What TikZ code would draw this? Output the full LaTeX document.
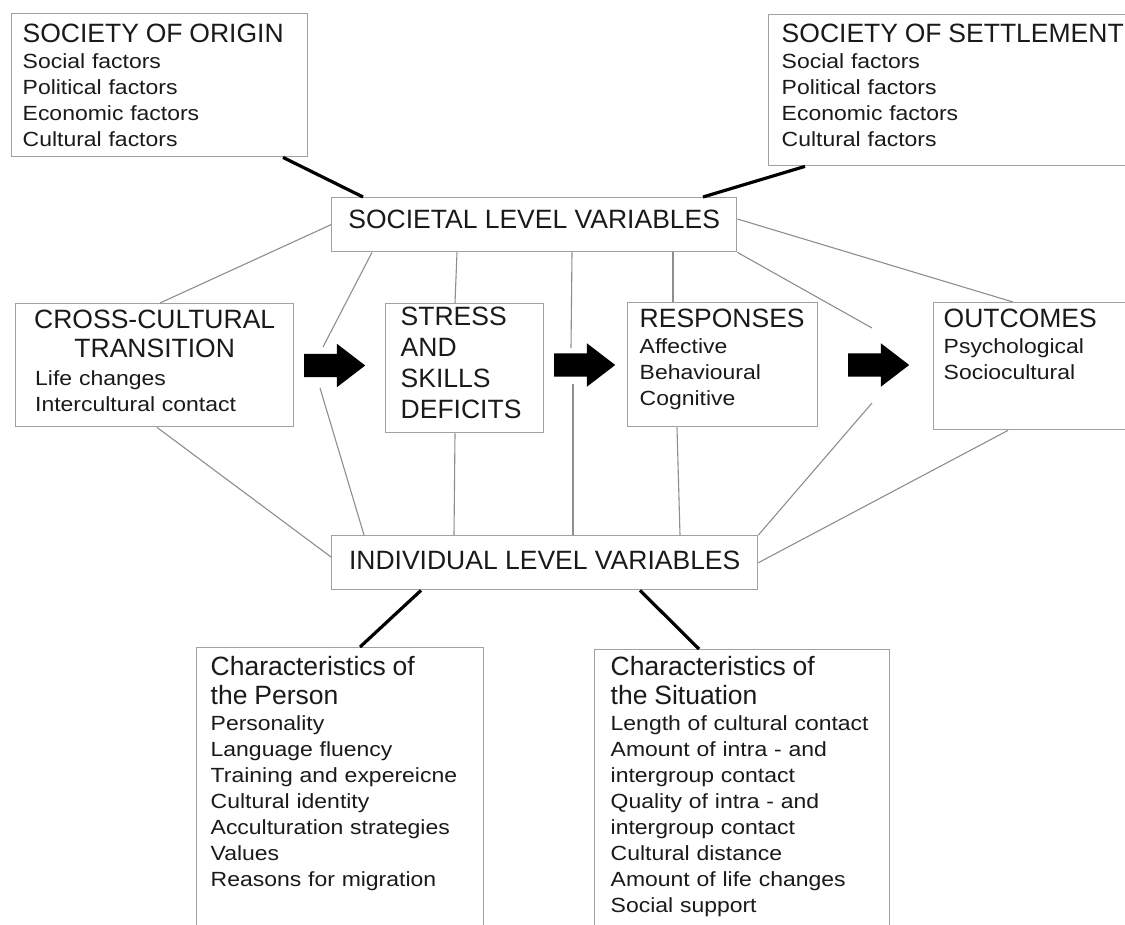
\documentclass[tikz,border=0pt]{standalone}
\usepackage{fontspec}
\setmainfont{Liberation Sans}
\newfontfamily\itemfam[FakeStretch=1.12]{Liberation Sans}
\usetikzlibrary{calc,shapes.arrows}

\definecolor{boxgray}{HTML}{A0A0A0}
\definecolor{linegray}{HTML}{8E8E8E}
\definecolor{txt}{HTML}{1A1A1A}
\newcommand\headfont{\rmfamily\fontsize{26.5}{26}\selectfont}
\newcommand\itemfont{\itemfam\fontsize{20.5}{26}\selectfont}

\begin{document}
\begin{tikzpicture}[
  x=1pt, y=-1pt,
  box/.style={draw=boxgray, line width=1.4pt, fill=white, anchor=north west, align=left, font=\itemfont, text=txt},
  varbox/.style={draw=boxgray, line width=1.4pt, fill=white, anchor=north west, inner sep=0pt, font=\headfont, text=txt},
  link/.style={draw=linegray, line width=1.1pt},
  tie/.style={draw=black, line width=3.2pt},
  bigarrow/.style={single arrow, fill=black, anchor=tail, inner xsep=0pt, inner ysep=11.5pt, minimum height=61pt, single arrow head extend=10pt, single arrow tip angle=75}
]
\useasboundingbox (0,0) rectangle (1125,925);
\fill[white] (0,0) rectangle (1125,925);
\clip (0,0) rectangle (1125,925);

% societies
\node[box, inner xsep=11pt, inner ysep=10.5pt, text width=274pt, text depth=103.5pt] (origin) at (11,13)
  {{\headfont SOCIETY OF ORIGIN}\\Social factors\\Political factors\\Economic factors\\Cultural factors};
\node[box, inner xsep=13pt, inner ysep=9.5pt, text width=350pt, text depth=113.5pt] (settle) at (768,14)
  {{\headfont SOCIETY OF SETTLEMENT}\\Social factors\\Political factors\\Economic factors\\Cultural factors};

% levels
\node[varbox, minimum width=405pt, minimum height=54pt, text depth=11.5pt] (soc) at (331,197) {SOCIETAL LEVEL VARIABLES};
\node[varbox, minimum width=426pt, minimum height=54pt, text depth=5.5pt] (ind) at (331,535) {INDIVIDUAL LEVEL VARIABLES};

% process
\node[box, inner xsep=19.5pt, inner ysep=6.5pt, text width=239pt, text depth=91.5pt] (cross) at (15,303)
  {\makebox[\linewidth]{\headfont CROSS-CULTURAL}\\[3pt]\makebox[\linewidth]{\headfont TRANSITION}\\[2pt]Life changes\\Intercultural contact};
\node[box, inner xsep=15pt, inner ysep=3.5pt, text width=128pt, text depth=103.5pt, font=\rmfamily\fontsize{26.5}{31}\selectfont] (stress) at (385,303)
  {STRESS\\AND\\SKILLS\\DEFICITS};
\node[box, inner xsep=12pt, inner ysep=6.5pt, text width=166pt, text depth=92.5pt] (resp) at (627,302)
  {{\headfont RESPONSES}\\Affective\\Behavioural\\Cognitive};
\node[box, inner xsep=10pt, inner ysep=6.5pt, text width=200pt, text depth=95.5pt] (outc) at (933,302)
  {{\headfont OUTCOMES}\\Psychological\\Sociocultural};

\node[bigarrow] (a1) at (304,365.5) {};
\node[bigarrow] (a2) at (554,365) {};
\node[bigarrow] (a3) at (848,365) {};
\coordinate (a1n) at ($(a1.tail)+(19,-18.5)$);
\coordinate (a1s) at ($(a1.tail)+(16,22.5)$);
\coordinate (a2n) at ($(a2.tail)+(17,-17)$);
\coordinate (a2s) at ($(a2.tail)+(19,19)$);
\coordinate (a3n) at ($(a3.tail)+(24,-37)$);
\coordinate (a3s) at ($(a3.tail)+(24,38)$);

% characteristics
\node[box, inner xsep=14pt, inner ysep=8.7pt, text width=259pt, text depth=256pt] (person) at (196,647)
  {{\headfont Characteristics of}\\[3pt]{\headfont the Person}\\Personality\\Language fluency\\Training and expereicne\\Cultural identity\\Acculturation strategies\\Values\\Reasons for migration};
\node[box, inner xsep=16pt, inner ysep=6.7pt, text width=263pt, text depth=258pt] (situation) at (594,649)
  {{\headfont Characteristics of}\\[3pt]{\headfont the Situation}\\Length of cultural contact\\Amount of intra - and\\intergroup contact\\Quality of intra - and\\intergroup contact\\Cultural distance\\Amount of life changes\\Social support};

\draw[tie] ($(origin.south west)+(272,0)$) -- ($(soc.north west)+(32,0)$);
\draw[tie] ($(settle.south west)+(37,0)$) -- ($(soc.north west)+(372,0)$);
\draw[tie] ($(ind.south west)+(90,0)$) -- ($(person.north west)+(164,0)$);
\draw[tie] ($(ind.south west)+(309,0)$) -- ($(situation.north west)+(105,0)$);

\draw[link] (soc.west) -- ($(cross.north west)+(145,0)$);
\draw[link] ($(soc.south west)+(41,0)$) -- (a1n);
\draw[link] ($(soc.south west)+(126,0)$) -- ($(stress.north west)+(70,0)$);
\draw[link] ($(soc.south west)+(241,0)$) -- (a2n);
\draw[link] ($(soc.south west)+(342,0)$) -- ($(resp.north west)+(46,0)$);
\draw[link] (soc.south east) -- (a3n);
\draw[link] ($(soc.north east)+(0,22)$) -- ($(outc.north west)+(80,0)$);
\draw[link] ($(cross.south west)+(142,0)$) -- ($(ind.north west)+(0,22)$);
\draw[link] (a1s) -- ($(ind.north west)+(33,0)$);
\draw[link] ($(stress.south west)+(70,0)$) -- ($(ind.north west)+(123,0)$);
\draw[link] (a2s) -- ($(ind.north west)+(242,0)$);
\draw[link] ($(resp.south west)+(50,0)$) -- ($(ind.north west)+(349,0)$);
\draw[link] (a3s) -- (ind.north east);
\draw[link] ($(outc.south west)+(75,0)$) -- (ind.east);
\end{tikzpicture}
\end{document}
